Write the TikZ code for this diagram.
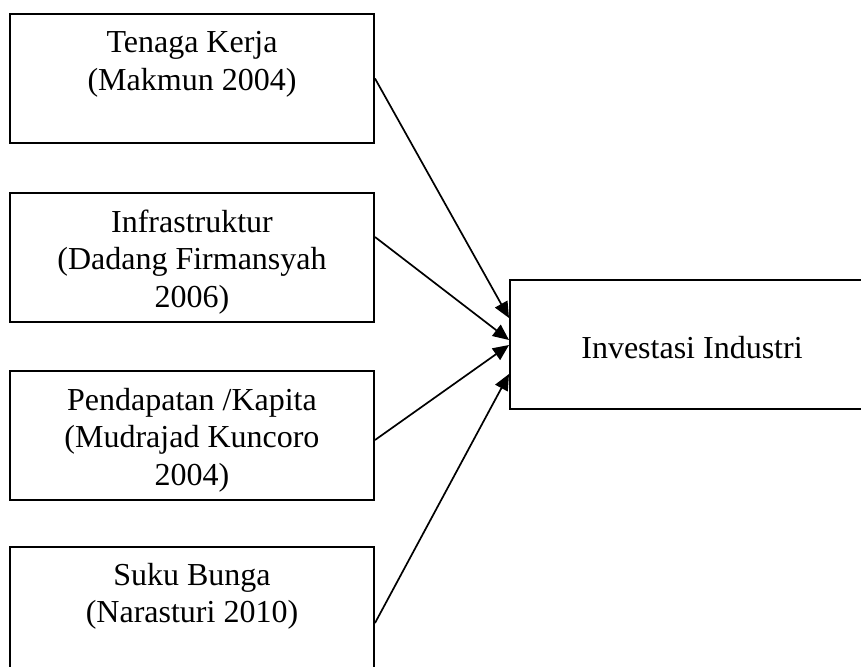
\documentclass[tikz,border=0pt]{standalone}
\usepackage{fontspec}
\setmainfont{Liberation Serif}
\usetikzlibrary{arrows.meta,calc}
\begin{document}
\begin{tikzpicture}[x=1pt,y=-1pt,
  box/.style={draw, line width=2pt, inner sep=0pt, minimum width=364pt, minimum height=129pt},
  lbl/.style={font=\fontsize{32}{37.5}\selectfont, inner sep=0pt, anchor=base},
  arr/.style={line width=1.7pt, -{Triangle[length=16pt,width=14pt]}}]
\clip (0,0) rectangle (861,666);
\fill[white] (0,0) rectangle (861,666);
\node[box] (b1) at (192,78.5) {};
\node[box] (b2) at (192,257) {};
\node[box] (b3) at (192,435) {};
\node[box] (b4) at (192,611.5) {};
\node[box] (r) at (692,344.5) {};
\node[lbl] (t1) at (192,53) {\parbox[t]{340pt}{\centering Tenaga Kerja\\(Makmun 2004)}};
\node[lbl] (t2) at (192,232) {\parbox[t]{340pt}{\centering Infrastruktur\\(Dadang Firmansyah\\2006)}};
\node[lbl] (t3) at (192,410) {\parbox[t]{340pt}{\centering Pendapatan /Kapita\\(Mudrajad Kuncoro\\2004)}};
\node[lbl] (t4) at (192,585) {\parbox[t]{340pt}{\centering Suku Bunga\\(Narasturi 2010)}};
\node[lbl] (tr) at (692,358) {Investasi Industri};
\draw[arr] (b1.east) -- ($(r.west)+(0,-26.5)$);
\draw[arr] ($(b2.east)+(0,-20)$) -- ($(r.west)+(0,-4.5)$);
\draw[arr] ($(b3.east)+(0,5)$) -- ($(r.west)+(0,0.5)$);
\draw[arr] ($(b4.east)+(0,11.5)$) -- ($(r.west)+(0,29.5)$);
\end{tikzpicture}
\end{document}
